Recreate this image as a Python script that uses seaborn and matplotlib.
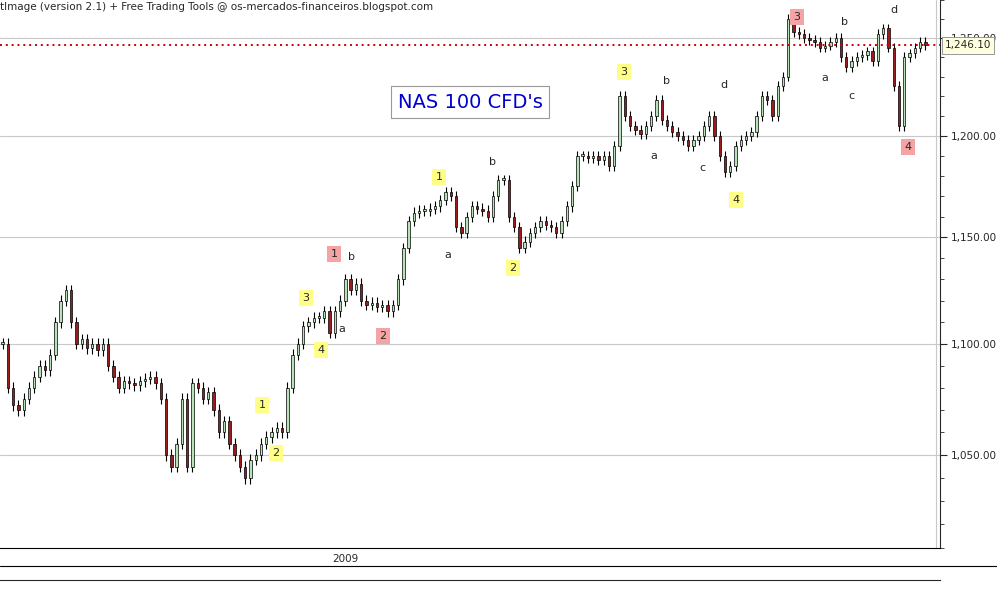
import matplotlib
matplotlib.use("Agg")
import matplotlib.pyplot as plt
import numpy as np
import seaborn as sns

sns.set_style("white")
plt.rcParams["font.family"] = ["DejaVu Sans"]

# closing prices, one per bar
closes = [
    1100, 1080, 1072, 1070, 1075, 1080, 1085, 1090, 1088, 1095, 1110, 1120, 1125, 1110,
    1100, 1102, 1098, 1100, 1097, 1100, 1090, 1085, 1080, 1083, 1082, 1081, 1083, 1084,
    1085, 1082, 1075, 1050, 1045, 1055, 1075, 1045, 1082, 1080, 1075, 1078, 1070, 1060,
    1065, 1055, 1050, 1045, 1040, 1048, 1050, 1055, 1058, 1060, 1062, 1060, 1080, 1095,
    1100, 1108, 1110, 1112, 1112, 1115, 1105, 1115, 1120, 1130, 1125, 1128, 1120, 1118,
    1119, 1117, 1118, 1115, 1118, 1130, 1145, 1158, 1162, 1163, 1163, 1164, 1165, 1168,
    1172, 1170, 1155, 1152, 1160, 1165, 1164, 1163, 1160, 1170, 1178, 1178, 1160, 1155,
    1145, 1148, 1152, 1155, 1158, 1156, 1155, 1152, 1158, 1165, 1175, 1190, 1190, 1189,
    1190, 1188, 1190, 1185, 1195, 1220, 1210, 1205, 1203, 1201, 1205, 1210, 1218, 1208,
    1205, 1202, 1200, 1198, 1195, 1198, 1200, 1205, 1210, 1200, 1190, 1182, 1185, 1195,
    1198, 1200, 1202, 1210, 1220, 1218, 1210, 1225, 1230, 1260, 1253, 1252, 1250, 1249,
    1248, 1245, 1246, 1248, 1250, 1240, 1235, 1238, 1240, 1241, 1243, 1238, 1252, 1255,
    1245, 1225, 1205, 1240, 1242, 1245, 1248, 1246.1,
]
last_price = 1246.10
yticks = [1050, 1100, 1150, 1200, 1250]

# wave labels: (text, x px, y px, box colour)
labels = [
    ("1", 262, 405, "#ffff88"), ("2", 276, 453, "#ffff88"), ("3", 306, 298, "#ffff88"),
    ("4", 321, 350, "#ffff88"), ("1", 334, 254, "#f4a4a4"), ("b", 351, 257, None),
    ("a", 342, 329, None), ("2", 383, 336, "#f4a4a4"), ("1", 439, 177, "#ffff88"),
    ("a", 448, 255, None), ("b", 492, 162, None), ("2", 513, 268, "#ffff88"),
    ("3", 624, 72, "#ffff88"), ("a", 654, 156, None), ("b", 666, 81, None),
    ("c", 702, 168, None), ("d", 724, 85, None), ("4", 736, 200, "#ffff88"),
    ("3", 797, 17, "#f4a4a4"), ("a", 825, 78, None), ("b", 844, 22, None),
    ("c", 851, 96, None), ("d", 894, 10, None), ("4", 908, 147, "#f4a4a4"),
]

W, H = 997, 591
fig = plt.figure(figsize=(W / 100, H / 100), dpi=100)
ax = fig.add_axes([0, 43 / H, 940 / W, 548 / H])

opens = [closes[0]] + closes[:-1]
for i, (o, c) in enumerate(zip(opens, closes)):
    hi, lo = max(o, c) + 2.5, min(o, c) - 2.5
    ax.vlines(i, lo, hi, color="black", lw=0.8, zorder=2)
    col = "#b8e2b8" if c >= o else "#9b1c1c"
    ax.bar(i, max(abs(c - o), 0.8), bottom=min(o, c), width=0.45,
           color=col, edgecolor="black", lw=0.5, zorder=3)

ax.set_yscale("log")
ax.set_ylim(1010, 1270)
ax.set_xlim(-0.5, len(closes) / 928 * 940 - 0.5)
ax.set_yticks(yticks)
ax.yaxis.set_minor_locator(matplotlib.ticker.FixedLocator(np.arange(1010, 1271, 10)))
ax.yaxis.set_minor_formatter(matplotlib.ticker.NullFormatter())
ax.set_yticklabels([f"{v:,.2f}" for v in yticks], fontsize=7.5)
ax.yaxis.tick_right()
ax.tick_params(axis="y", which="both", right=True, direction="out", length=5, pad=3)
ax.tick_params(axis="y", which="minor", length=3)
ax.set_xticks([])
ax.grid(axis="y", color="#c8c8c8", lw=0.8)
ax.axvline(len(closes) + 1, color="#c8c8c8", lw=0.8)
for s in ["top", "left"]:
    ax.spines[s].set_visible(False)
ax.spines["bottom"].set_color("black")

ax.axhline(last_price, color="#cc0000", ls=(0, (1, 2)), lw=1.4, zorder=4)
ax.text(1.005, np.log(last_price / 1010) / np.log(1270 / 1010), f"{last_price:,.2f}",
        transform=ax.transAxes, fontsize=7.5, va="center", ha="left", zorder=10,
        bbox=dict(boxstyle="square,pad=0.3", fc="#ffffe0", ec="#888888", lw=0.6))

for t, px, py, bc in labels:
    kw = dict(boxstyle="square,pad=0.3", fc=bc, ec="none") if bc else None
    fig.text(px / W, 1 - py / H, t, fontsize=8, ha="center", va="center", bbox=kw)

fig.text(470 / W, 1 - 102 / H, "NAS 100 CFD's", fontsize=14, color="#0000cc",
         ha="center", va="center",
         bbox=dict(boxstyle="square,pad=0.35", fc="white", ec="#999999", lw=0.8))
fig.text(0, 1 - 7 / H, "tImage (version 2.1) + Free Trading Tools @ os-mercados-financeiros.blogspot.com",
         fontsize=7.5, ha="left", va="center",
         bbox=dict(boxstyle="square,pad=0.15", fc="white", ec="none"))

bx = fig.add_axes([0, 11 / H, 940 / W, 30 / H])
bx.set_xticks([])
bx.set_yticks([])
for s in ["top", "left", "right"]:
    bx.spines[s].set_visible(False)
bx.text(345 / 940, 0.85, "2009", fontsize=7.5, ha="center", va="top", transform=bx.transAxes)
fig.add_artist(plt.Line2D([0, 1], [1 - 566 / H] * 2, color="black", lw=0.8))

fig.savefig("out.png", dpi=100)
